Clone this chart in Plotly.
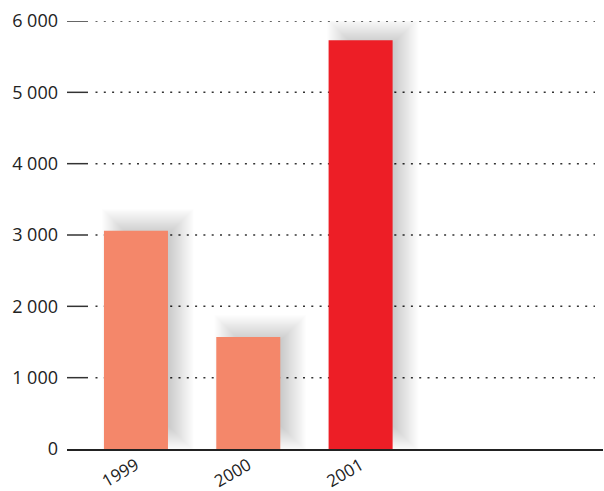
import plotly.graph_objects as go

# Data
years = ["1999", "2000", "2001"]
values = [3060, 1570, 5730]
bar_colors = ["#F4876A", "#F4876A", "#ED1E26"]
y_ticks = [0, 1000, 2000, 3000, 4000, 5000, 6000]
y_tick_labels = ["0", "1 000", "2 000", "3 000", "4 000", "5 000", "6 000"]

W, H = 604, 491
M_L, M_R, M_T, M_B = 67, 1, 21, 42
X_RANGE = [-0.614, 4.158]
Y_RANGE = [0, 6000]
BAR_W = 0.57

plot_w = W - M_L - M_R
plot_h = H - M_T - M_B
dx = (X_RANGE[1] - X_RANGE[0]) / plot_w   # data units per pixel (x)
dy = (Y_RANGE[1] - Y_RANGE[0]) / plot_h   # data units per pixel (y)


def paper_x(px):
    return (px - M_L) / plot_w


xs = list(range(len(years)))

fig = go.Figure()
fig.add_trace(go.Bar(
    x=xs, y=values, width=BAR_W,
    marker=dict(color=bar_colors, line=dict(width=0)),
    hoverinfo="skip",
))

shapes = []

# Soft drop shadow behind each bar, built from stacked translucent rectangles
n_layers = 26
spread = 12
for x, v in zip(xs, values):
    x0 = x - BAR_W / 2 + 10 * dx
    x1 = x + BAR_W / 2 + 14 * dx
    y0 = 10 * dy
    y1 = v + 10 * dy
    for k in range(n_layers):
        e = spread - k * (2 * spread / (n_layers - 1))
        shapes.append(dict(
            type="rect", layer="below", xref="x", yref="y",
            x0=x0 - e * dx, x1=x1 + e * dx,
            y0=max(0, y0 - e * dy), y1=y1 + e * dy,
            fillcolor="black", opacity=0.0085, line=dict(width=0),
        ))

# Dotted gridlines and short solid tick marks
for t in y_ticks:
    if t > 0:
        shapes.append(dict(
            type="line", layer="below", xref="paper", yref="y",
            x0=paper_x(95.5), x1=paper_x(595), y0=t, y1=t,
            line=dict(color="#333333", width=1.5, dash="2px,6.3px"),
        ))
        shapes.append(dict(
            type="line", layer="above", xref="paper", yref="y",
            x0=paper_x(67), x1=paper_x(88), y0=t, y1=t,
            line=dict(color="#333333", width=1.5),
        ))

fig.update_layout(
    width=W, height=H,
    margin=dict(l=M_L, r=M_R, t=M_T, b=M_B, pad=0, autoexpand=False),
    paper_bgcolor="white", plot_bgcolor="white",
    showlegend=False,
    shapes=shapes,
    font=dict(family="Open Sans", size=18, color="#222222"),
    xaxis=dict(
        range=X_RANGE, tickmode="array", tickvals=xs, ticktext=years,
        tickangle=-30, showgrid=False, zeroline=False,
        showline=True, linecolor="#222222", linewidth=2,
        ticks="", tickfont=dict(size=17), ticklabelstandoff=-2,
        automargin=False, fixedrange=True,
    ),
    yaxis=dict(
        range=Y_RANGE, tickmode="array", tickvals=y_ticks,
        ticktext=y_tick_labels, showgrid=False, zeroline=False,
        showline=False, ticks="", ticklabelstandoff=8,
        automargin=False, fixedrange=True,
    ),
)

fig.write_html("out.html", config={"displayModeBar": False})
